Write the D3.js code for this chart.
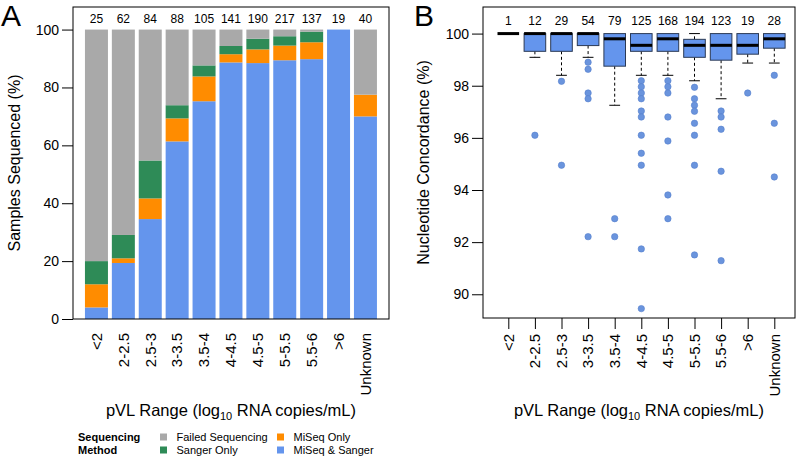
<!DOCTYPE html>
<head>
<meta charset="utf-8">
<style>
    body { margin: 0; background: #fff; }
    svg { font-family: "Liberation Sans", Arial, sans-serif; }
    .frame { fill: none; stroke: #000; stroke-width: 1px; }
    .whisker { stroke: #000; stroke-width: 1px; stroke-dasharray: 3,2.5; }
    .cap { stroke: #000; stroke-width: 1px; }
    .box { fill: #6495ed; stroke: #2b3a55; stroke-width: 1px; }
    .median { stroke: #000; stroke-width: 3px; }
    .outlier { fill: #6a94dd; stroke: #5580cc; stroke-width: 0.6px; }
</style>
<title>pVL Range charts</title>
</head>

<body>
    <script src="https://d3js.org/d3.v7.min.js"></script>
    <script>
        // categories (pVL range, log10 RNA copies/mL)
        const categories = ['<2', '2-2.5', '2.5-3', '3-3.5', '3.5-4', '4-4.5', '4.5-5', '5-5.5', '5.5-6', '>6', 'Unknown'];

        // panel A: sample counts per sequencing method
        const totalN      = [25, 62, 84, 88, 105, 141, 190, 217, 137, 19, 40];
        const miseqSanger = [1, 12, 29, 54, 79, 125, 168, 194, 123, 19, 28];
        const miseqOnly   = [2, 1, 6, 7, 9, 4, 9, 11, 8, 0, 3];
        const sangerOnly  = [2, 5, 11, 4, 4, 4, 7, 7, 5, 0, 0];
        const failedSeq   = [20, 44, 38, 23, 13, 8, 6, 5, 1, 0, 9];

        const methods = ['MiSeq & Sanger', 'MiSeq Only', 'Sanger Only', 'Failed Sequencing'];
        const methodColors = ['#6495ed', '#ff8c00', '#2e8b57', '#a9a9a9'];
        const yTicksA = [0, 20, 40, 60, 80, 100];

        // panel B: nucleotide concordance box stats
        const boxN        = [1, 12, 29, 54, 79, 125, 168, 194, 123, 19, 28];
        const boxHigh     = [100, 100, 100, 100, 100, 100, 100, 100, 100, 100, 100];
        const boxQ3       = [100, 100, 100, 100, 100, 100, 100, 99.78, 100, 100, 100];
        const boxMedian   = [100, 100, 100, 100, 99.8, 99.55, 99.8, 99.55, 99.55, 99.55, 99.8];
        const boxQ1       = [100, 99.32, 99.32, 99.54, 98.75, 99.32, 99.32, 99.09, 98.98, 99.21, 99.44];
        const boxLow      = [100, 99.09, 98.4, 99.09, 97.25, 98.4, 98.4, 98.19, 97.5, 98.87, 98.87];
        const boxOutliers = [
            [],
            [96.1],
            [98.17, 94.95],
            [98.9, 98.63, 97.72, 97.5, 92.21],
            [92.9, 92.21],
            [98.19, 97.96, 97.72, 97.5, 97.03, 96.8, 96.1, 95.41, 94.95, 91.74, 89.45],
            [98.19, 97.96, 97.72, 96.8, 95.88, 93.81, 92.9],
            [97.94, 97.5, 97.25, 97.02, 96.56, 96.1, 94.95, 91.51],
            [97.03, 96.8, 96.33, 94.72, 91.29],
            [97.72],
            [98.4, 96.56, 94.5]
        ];
        const yTicksB = [90, 92, 94, 96, 98, 100];

        const svg = d3.select('body').append('svg')
            .attr('width', 800)
            .attr('height', 456);

        // ---------- Panel A ----------
        const frameA = { left: 73, right: 389, top: 7, bottom: 319 };

        const xA = d3.scaleBand()
            .domain(categories)
            .range([83, 378.9])
            .paddingInner(0.145)
            .paddingOuter(0.0725);
        const yA = d3.scaleLinear().domain([0, 107.8]).range([frameA.bottom, frameA.top]);

        const stackRows = categories.map((c, i) => ({
            cat: c,
            'MiSeq & Sanger': miseqSanger[i] / totalN[i] * 100,
            'MiSeq Only': miseqOnly[i] / totalN[i] * 100,
            'Sanger Only': sangerOnly[i] / totalN[i] * 100,
            'Failed Sequencing': failedSeq[i] / totalN[i] * 100
        }));
        const stacked = d3.stack().keys(methods)(stackRows);

        const gA = svg.append('g');
        gA.selectAll('g.layer')
            .data(stacked)
            .enter().append('g')
            .attr('fill', (d, i) => methodColors[i])
            .selectAll('rect')
            .data(d => d)
            .enter().append('rect')
            .attr('x', d => xA(d.data.cat))
            .attr('width', xA.bandwidth())
            .attr('y', d => yA(d[1]))
            .attr('height', d => yA(d[0]) - yA(d[1]));

        gA.append('rect').attr('class', 'frame')
            .attr('x', frameA.left).attr('y', frameA.top)
            .attr('width', frameA.right - frameA.left)
            .attr('height', frameA.bottom - frameA.top);

        gA.selectAll('text.n')
            .data(categories)
            .enter().append('text')
            .attr('x', (d) => xA(d) + xA.bandwidth() / 2)
            .attr('y', 23)
            .attr('text-anchor', 'middle')
            .attr('font-size', '12px')
            .text((d, i) => totalN[i]);

        const axA = gA.append('g')
            .attr('transform', `translate(${frameA.left},0)`)
            .call(d3.axisLeft(yA).tickValues(yTicksA).tickSize(11).tickPadding(3));
        axA.select('.domain').remove();
        axA.selectAll('text').attr('font-size', '14px').attr('font-family', null).attr('fill', '#000');

        gA.selectAll('text.xlab')
            .data(categories)
            .enter().append('text')
            .attr('transform', d => `translate(${xA(d) + xA.bandwidth() / 2},333) rotate(-90)`)
            .attr('dy', '0.35em')
            .attr('text-anchor', 'end')
            .attr('font-size', '15px')
            .text(d => d);

        gA.append('text')
            .attr('transform', `translate(14,${(frameA.top + frameA.bottom) / 2}) rotate(-90)`)
            .attr('dy', '0.35em')
            .attr('text-anchor', 'middle')
            .attr('font-size', '16px')
            .text('Samples Sequenced (%)');

        // ---------- Panel B ----------
        const frameB = { left: 483, right: 795, top: 7, bottom: 318 };
        const xB = d3.scalePoint().domain(categories).range([508.3, 774.3]);
        const yB = d3.scaleLinear().domain([89.09, 101.02]).range([frameB.bottom, frameB.top]);
        const halfW = 10.8;

        const boxRows = categories.map((c, i) => ({
            cat: c, low: boxLow[i], q1: boxQ1[i], med: boxMedian[i],
            q3: boxQ3[i], high: boxHigh[i], out: boxOutliers[i]
        }));

        const gB = svg.append('g');
        const boxes = gB.selectAll('g.bx')
            .data(boxRows)
            .enter().append('g')
            .attr('transform', d => `translate(${xB(d.cat)},0)`);

        const lowW = boxes.filter(d => d.low < d.q1);
        lowW.append('line').attr('class', 'whisker')
            .attr('y1', d => yB(d.q1)).attr('y2', d => yB(d.low));
        lowW.append('line').attr('class', 'cap')
            .attr('x1', -halfW / 2).attr('x2', halfW / 2)
            .attr('y1', d => yB(d.low)).attr('y2', d => yB(d.low));

        const highW = boxes.filter(d => d.high > d.q3);
        highW.append('line').attr('class', 'whisker')
            .attr('y1', d => yB(d.q3)).attr('y2', d => yB(d.high));
        highW.append('line').attr('class', 'cap')
            .attr('x1', -halfW / 2).attr('x2', halfW / 2)
            .attr('y1', d => yB(d.high)).attr('y2', d => yB(d.high));

        boxes.filter(d => d.q3 > d.q1).append('rect')
            .attr('class', 'box')
            .attr('x', -halfW)
            .attr('width', halfW * 2)
            .attr('y', d => yB(d.q3))
            .attr('height', d => yB(d.q1) - yB(d.q3));

        boxes.append('line')
            .attr('class', 'median')
            .attr('x1', -halfW).attr('x2', halfW)
            .attr('y1', d => yB(d.med))
            .attr('y2', d => yB(d.med));

        boxes.selectAll('circle')
            .data(d => d.out)
            .enter().append('circle')
            .attr('class', 'outlier')
            .attr('cy', v => yB(v))
            .attr('r', 3.2);

        gB.append('rect').attr('class', 'frame')
            .attr('x', frameB.left).attr('y', frameB.top)
            .attr('width', frameB.right - frameB.left)
            .attr('height', frameB.bottom - frameB.top);

        gB.selectAll('text.n')
            .data(categories)
            .enter().append('text')
            .attr('x', d => xB(d))
            .attr('y', 25)
            .attr('text-anchor', 'middle')
            .attr('font-size', '12px')
            .text((d, i) => boxN[i]);

        const axBy = gB.append('g')
            .attr('transform', `translate(${frameB.left},0)`)
            .call(d3.axisLeft(yB).tickValues(yTicksB).tickSize(11).tickPadding(3));
        axBy.select('.domain').remove();
        axBy.selectAll('text').attr('font-size', '14px').attr('font-family', null).attr('fill', '#000');

        const axBx = gB.append('g')
            .attr('transform', `translate(0,${frameB.bottom})`)
            .call(d3.axisBottom(xB).tickSize(11).tickFormat(''));
        axBx.select('.domain').remove();

        gB.selectAll('text.xlab')
            .data(categories)
            .enter().append('text')
            .attr('transform', d => `translate(${xB(d)},334) rotate(-90)`)
            .attr('dy', '0.35em')
            .attr('text-anchor', 'end')
            .attr('font-size', '15px')
            .text(d => d);

        gB.append('text')
            .attr('transform', `translate(423,${(frameB.top + frameB.bottom) / 2}) rotate(-90)`)
            .attr('dy', '0.35em')
            .attr('text-anchor', 'middle')
            .attr('font-size', '16px')
            .text('Nucleotide Concordance (%)');

        // x titles
        [(frameA.left + frameA.right) / 2, (frameB.left + frameB.right) / 2].forEach(cx => {
            const t = svg.append('text')
                .attr('x', cx)
                .attr('y', 416)
                .attr('text-anchor', 'middle')
                .attr('font-size', '16.5px');
            t.append('tspan').text('pVL Range (log');
            t.append('tspan').attr('font-size', '11px').attr('dy', 4).text('10');
            t.append('tspan').attr('dy', -4).text(' RNA copies/mL)');
        });

        // panel letters
        svg.append('text').attr('x', 1).attr('y', 26).attr('font-size', '30px').text('A');
        svg.append('text').attr('x', 414).attr('y', 26).attr('font-size', '30px').text('B');

        // legend
        const legend = svg.append('g').attr('font-size', '11px');
        legend.append('text').attr('x', 78).attr('y', 441).attr('font-weight', 'bold').text('Sequencing');
        legend.append('text').attr('x', 78).attr('y', 454).attr('font-weight', 'bold').text('Method');
        const legendOrder = ['Failed Sequencing', 'MiSeq Only', 'Sanger Only', 'MiSeq & Sanger'];
        const legendX = [160, 277];
        legendOrder.forEach((m, k) => {
            const col = k % 2;
            const row = Math.floor(k / 2);
            const yy = 437 + row * 13;
            legend.append('rect')
                .attr('x', legendX[col]).attr('y', yy - 3.5)
                .attr('width', 7).attr('height', 7)
                .attr('fill', methodColors[methods.indexOf(m)]);
            legend.append('text')
                .attr('x', legendX[col] + 16.5)
                .attr('y', yy + 4)
                .text(m);
        });
    </script>
</body>
